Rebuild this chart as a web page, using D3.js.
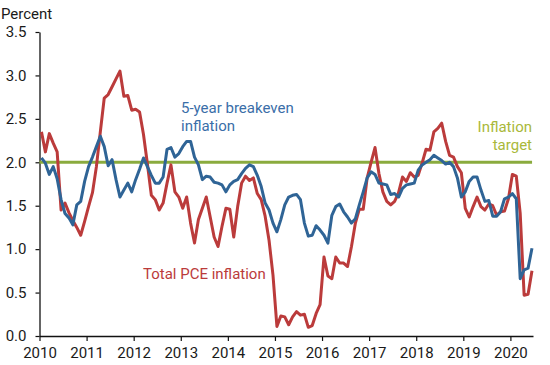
<!DOCTYPE html>
<html>
<head>
<meta charset="utf-8">
<script src="https://cdn.jsdelivr.net/npm/d3@7"></script>
<style>
  body { margin: 0; background: #fff; }
  text { font-family: Roboto, 'Noto Sans', sans-serif; }
</style>
</head>
<body>
<svg id="chart" width="550" height="365"></svg>
<script>

// monthly, Jan 2010 .. Jun 2020 (plotted mid-month)
var startYear = 2010;

var pce = [
  2.35, 2.12, 2.33, 2.22, 2.12, 1.45, 1.53, 1.42, 1.33, 1.25,
  1.16, 1.32, 1.49, 1.65, 1.95, 2.35, 2.74, 2.78, 2.87, 2.96,
  3.05, 2.76, 2.77, 2.60, 2.61, 2.58, 2.32, 1.98, 1.62, 1.57,
  1.45, 1.53, 1.76, 1.97, 1.66, 1.60, 1.47, 1.60, 1.30, 1.07,
  1.34, 1.47, 1.60, 1.37, 1.14, 1.03, 1.26, 1.47, 1.46, 1.14,
  1.49, 1.76, 1.84, 1.79, 1.82, 1.64, 1.57, 1.38, 1.10, 0.70,
  0.11, 0.23, 0.22, 0.13, 0.22, 0.28, 0.24, 0.25, 0.10, 0.12,
  0.26, 0.36, 0.91, 0.69, 0.66, 0.91, 0.84, 0.84, 0.80, 1.03,
  1.30, 1.46, 1.46, 1.82, 2.00, 2.17, 1.87, 1.66, 1.55, 1.51,
  1.55, 1.65, 1.83, 1.78, 1.88, 1.83, 1.85, 1.99, 2.15, 2.14,
  2.35, 2.39, 2.45, 2.24, 2.08, 2.06, 1.95, 1.88, 1.47, 1.37,
  1.49, 1.60, 1.49, 1.45, 1.52, 1.50, 1.39, 1.43, 1.44, 1.58,
  1.86, 1.84, 1.41, 0.47, 0.48, 0.75
];

var breakeven = [
  2.05, 1.99, 1.86, 1.95, 1.81, 1.57, 1.41, 1.36, 1.28, 1.51,
  1.55, 1.78, 1.95, 2.06, 2.18, 2.30, 2.18, 1.96, 2.03, 1.80,
  1.60, 1.68, 1.76, 1.66, 1.80, 1.92, 2.05, 1.95, 1.85, 1.76,
  1.76, 1.83, 2.15, 2.17, 2.06, 2.10, 2.18, 2.24, 2.24, 2.06,
  1.97, 1.80, 1.84, 1.83, 1.77, 1.76, 1.74, 1.66, 1.74, 1.78,
  1.80, 1.87, 1.93, 1.97, 1.95, 1.85, 1.72, 1.53, 1.45, 1.30,
  1.20, 1.34, 1.51, 1.60, 1.62, 1.63, 1.57, 1.30, 1.15, 1.16,
  1.27, 1.22, 1.16, 1.07, 1.39, 1.49, 1.52, 1.43, 1.37, 1.30,
  1.35, 1.51, 1.66, 1.82, 1.89, 1.86, 1.76, 1.75, 1.74, 1.63,
  1.64, 1.60, 1.70, 1.74, 1.75, 1.76, 1.91, 1.97, 2.00, 2.03,
  2.08, 2.05, 2.02, 1.98, 2.00, 1.95, 1.82, 1.60, 1.66, 1.78,
  1.83, 1.83, 1.68, 1.55, 1.56, 1.38, 1.38, 1.43, 1.58, 1.60,
  1.64, 1.58, 0.66, 0.76, 0.78, 1.01
];

var target = 2.0;

var yearTicks = [2010, 2011, 2012, 2013, 2014, 2015, 2016, 2017, 2018, 2019, 2020];
var valueTicks = [0, 0.5, 1.0, 1.5, 2.0, 2.5, 3.0, 3.5];

var colors = {
  pce: '#bb3b3b',
  breakeven: '#2f6496',
  target: '#8aab3e',
  targetText: '#a9b83a',
  breakevenText: '#3a6ea8'
};

var margin = { left: 39.5, right: 17, top: 32, bottom: 29 };
var width = 550, height = 365;
var fontSize = '15px';

var svg = d3.select('#chart');

var x = d3.scaleLinear()
  .domain([2010, 2020.48])
  .range([margin.left, width - margin.right]);

var y = d3.scaleLinear()
  .domain([0, 3.5])
  .range([height - margin.bottom, margin.top]);

function monthX(d, i){ return x(startYear + (i + 0.5) / 12) }

// axes
var xAxis = d3.axisBottom(x)
  .tickValues(yearTicks)
  .tickFormat(d3.format('d'))
  .tickSizeInner(5)
  .tickSizeOuter(0)
  .tickPadding(6);

var yAxis = d3.axisLeft(y)
  .tickValues(valueTicks)
  .tickFormat(d3.format('.1f'))
  .tickSizeInner(4)
  .tickSizeOuter(0)
  .tickPadding(9);

var gx = svg.append('g')
  .attr('transform', 'translate(0,' + y(0) + ')')
  .call(xAxis);

var gy = svg.append('g')
  .attr('transform', 'translate(' + margin.left + ',0)')
  .call(yAxis);

[gx, gy].forEach(function(g){
  g.select('.domain').attr('stroke', '#111').attr('stroke-width', 1.3);
  g.selectAll('.tick line').attr('stroke', '#111').attr('stroke-width', 1.2);
  g.selectAll('.tick text')
    .attr('fill', '#1a1a1a')
    .style('font-size', fontSize);
});

svg.append('text')
  .attr('x', 1)
  .attr('y', 19)
  .attr('fill', '#1a1a1a')
  .style('font-size', fontSize)
  .text('Percent');

// target line
svg.append('line')
  .attr('x1', x(2010))
  .attr('x2', x(2020.46))
  .attr('y1', y(target))
  .attr('y2', y(target))
  .attr('stroke', colors.target)
  .attr('stroke-width', 3);

var line = d3.line()
  .x(monthX)
  .y(function(d){ return y(d) });

svg.append('path')
  .datum(pce)
  .attr('d', line)
  .attr('fill', 'none')
  .attr('stroke', colors.pce)
  .attr('stroke-width', 3)
  .attr('stroke-linejoin', 'round');

svg.append('path')
  .datum(breakeven)
  .attr('d', line)
  .attr('fill', 'none')
  .attr('stroke', colors.breakeven)
  .attr('stroke-width', 3)
  .attr('stroke-linejoin', 'round');

// labels
function label(lines, px, py, color, anchor){
  var t = svg.append('text')
    .attr('x', px)
    .attr('y', py)
    .attr('fill', color)
    .attr('text-anchor', anchor || 'start')
    .style('font-size', fontSize);
  lines.forEach(function(s, i){
    t.append('tspan')
      .attr('x', px)
      .attr('dy', i ? 18 : 0)
      .text(s);
  });
}

label(['5-year breakeven', 'inflation'], 181, 113, colors.breakevenText);
label(['Total PCE inflation'], 143, 279, colors.pce);
label(['Inflation', 'target'], 532, 132, colors.targetText, 'end');

</script>
</body>
</html>
